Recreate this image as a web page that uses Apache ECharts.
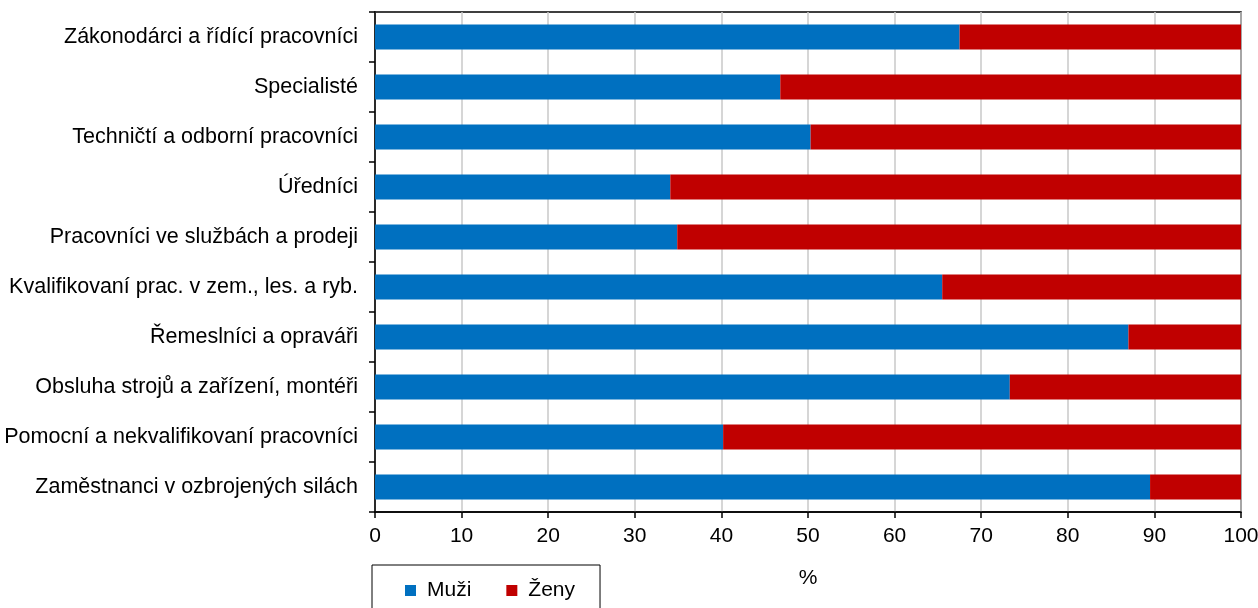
<!DOCTYPE html>
<html><head><meta charset="utf-8">
<script src="https://cdn.jsdelivr.net/npm/echarts@6/dist/echarts.min.js"></script>
<style>html,body{margin:0;padding:0;background:#fff}#c{width:1258px;height:608px}</style>
</head><body><div id="c"></div>
<script>
const categories = [
  "Zákonodárci a řídící pracovníci",
  "Specialisté",
  "Techničtí a odborní pracovníci",
  "Úředníci",
  "Pracovníci ve službách a prodeji",
  "Kvalifikovaní prac. v zem., les. a ryb.",
  "Řemeslníci a opraváři",
  "Obsluha strojů a zařízení, montéři",
  "Pomocní a nekvalifikovaní pracovníci",
  "Zaměstnanci v ozbrojených silách"
];
const muzi = [67.5, 46.8, 50.3, 34.1, 34.9, 65.5, 87.0, 73.3, 40.2, 89.5];
const zeny = [32.5, 53.2, 49.7, 65.9, 65.1, 34.5, 13.0, 26.7, 59.8, 10.5];
const xTicks = [0, 10, 20, 30, 40, 50, 60, 70, 80, 90, 100];

const font = "'Liberation Sans', Arial, sans-serif";
const fs = 21.5;
const chart = echarts.init(document.getElementById('c'));
chart.setOption({
  animation: false,
  textStyle: {fontFamily: font},
  grid: {left: 375, right: 17, top: 12, bottom: 96, outerBoundsMode: 'none', containLabel: false,
         show: true, borderColor: '#000', borderWidth: 1.5, backgroundColor: 'transparent'},
  legend: {
    left: 372, top: 565,
    data: ['Muži', 'Ženy'],
    icon: 'rect', itemWidth: 11, itemHeight: 11, itemGap: 35,
    borderColor: '#000', borderWidth: 1,
    padding: [15, 25, 30, 33],
    textStyle: {fontSize: 21, color: '#000', fontFamily: font, padding: [0, 0, 0, 6]}
  },
  xAxis: {
    type: 'value', min: xTicks[0], max: xTicks[xTicks.length-1], interval: 10,
    name: '%', nameLocation: 'middle', nameGap: 56,
    nameTextStyle: {fontSize: 21, color: '#000', fontFamily: font},
    axisLine: {show: true, lineStyle: {color: '#000', width: 1.5}},
    axisTick: {show: true, length: 6, lineStyle: {color: '#000', width: 1.5}},
    axisLabel: {fontSize: 21, color: '#000', margin: 14, fontFamily: font},
    splitLine: {show: true, lineStyle: {color: '#c8c8c8', width: 1.5}}
  },
  yAxis: {
    type: 'category', data: categories, inverse: true,
    axisLine: {show: true, lineStyle: {color: '#000', width: 1.5}},
    axisTick: {show: true, length: 6, interval: 0, lineStyle: {color: '#000', width: 1.5}},
    axisLabel: {fontSize: fs, color: '#000', margin: 17, fontFamily: font},
    splitLine: {show: false}
  },
  series: [
    {name: 'Muži', type: 'bar', stack: 's', data: muzi, barWidth: '50%', itemStyle: {color: '#0070C0'}},
    {name: 'Ženy', type: 'bar', stack: 's', data: zeny, barWidth: '50%', itemStyle: {color: '#C00000'}}
  ]
});
</script></body></html>
